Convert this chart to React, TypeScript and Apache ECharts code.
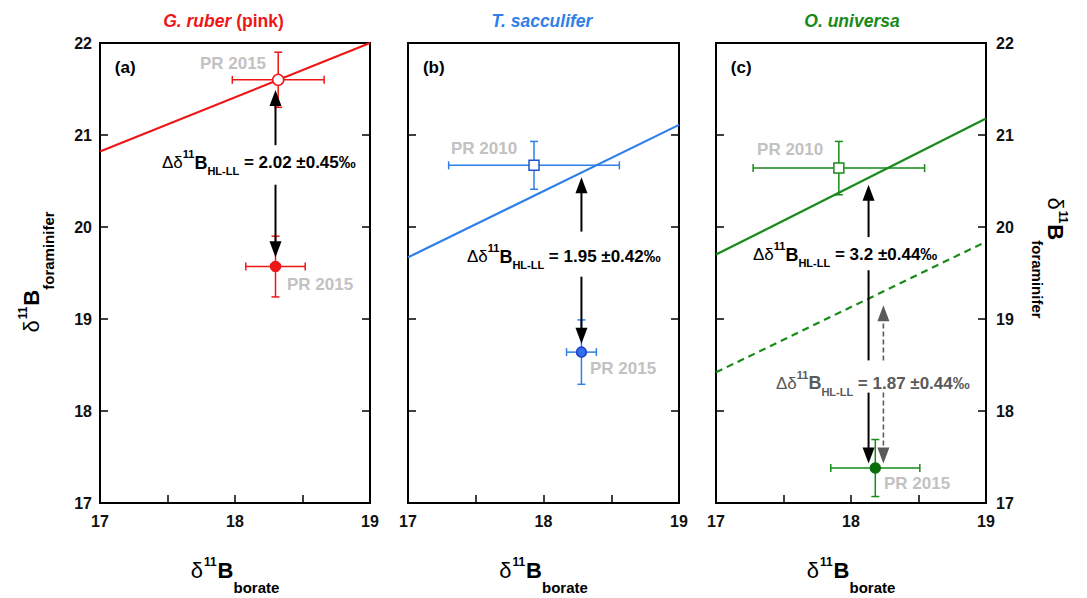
import React, { useEffect, useRef } from 'react';
import * as echarts from 'echarts';

const FONT = '"Liberation Sans", Arial, Helvetica, sans-serif';

// axis ranges and tick labels
const xRange = [17, 19];
const yRange = [17, 22];
const xTickStep = 0.5;
const yTickStep = 1;

// colours
const RED = '#ee1616';
const BLUE = '#2f7fe8';
const GREEN = '#178a17';
const GREY_LABEL = '#c2c2c2';
const GREY_DARK = '#5a5a5a';

// panel titles
const titleA = ['G. ruber', ' (pink)'];
const titleB = 'T. sacculifer';
const titleC = 'O. universa';
const panelLetters = ['(a)', '(b)', '(c)'];
const letterPos = [17.11, 21.73];

// calibration lines: y at x = 17 and x = 19
const lineXs = [17, 19];
const lineA = [20.82, 22.0];
const lineB = [19.67, 21.11];
const lineC = [19.7, 21.18];
const lineCDashed = [18.42, 19.84];

// data points: [x, y, xErr, yErr]
const openA = [[18.32, 21.6, 0.34, 0.3]];
const closedA = [[18.3, 19.57, 0.22, 0.33]];
const openB = [[17.93, 20.67, 0.63, 0.26]];
const closedB = [[18.28, 18.64, 0.11, 0.35]];
const openC = [[17.91, 20.64, 0.635, 0.29]];
const closedC = [[18.18, 17.38, 0.33, 0.31]];

// point labels: [x, y] (left edge, middle)
const prLabelsA = [[17.74, 21.78], [18.385, 19.37]];
const prTextA = ['PR 2015', 'PR 2015'];
const prLabelsB = [[17.317, 20.848], [18.343, 18.467]];
const prTextB = ['PR 2010', 'PR 2015'];
const prLabelsC = [[17.304, 20.837], [18.244, 17.217]];
const prTextC = ['PR 2010', 'PR 2015'];

// arrows: [x, yFrom, yTo, head(1/0)]
const arrowsA = [[18.3, 20.89, 21.49, 1], [18.3, 20.46, 19.67, 1]];
const arrowsB = [[18.28, 19.95, 20.54, 1], [18.28, 19.46, 18.73, 1]];
const arrowsC = [[18.13, 19.89, 20.46, 1], [18.13, 19.53, 18.55, 0], [18.13, 18.2, 17.43, 1]];
const arrowsCGrey = [[18.24, 18.55, 19.15, 1], [18.24, 18.2, 17.43, 1]];

// annotations: position [x, y] (left edge, middle of main line), value text
const annoPosA = [[17.459, 20.696]];
const annoValA = [' = 2.02 ±0.45‰'];
const annoPosB = [[17.435, 19.674]];
const annoValB = [' = 1.95 ±0.42‰'];
const annoPosC = [[17.274, 19.696]];
const annoValC = [' = 3.2 ±0.44‰'];
const annoPosCGrey = [[17.444, 18.304]];
const annoValCGrey = [' = 1.87 ±0.44‰'];

const GRIDS = [
  { left: 100, top: 43, width: 270, height: 460 },
  { left: 408, top: 43, width: 271, height: 460 },
  { left: 716, top: 43, width: 270, height: 460 },
];

function annoRich(fill: string) {
  return {
    d: { fontFamily: FONT, fontSize: 17, fontWeight: 'normal', fill, lineHeight: 28, verticalAlign: 'middle' },
    sup: { fontFamily: FONT, fontSize: 11, fontWeight: 'bold', fill, lineHeight: 10, verticalAlign: 'top' },
    b: { fontFamily: FONT, fontSize: 18, fontWeight: 'bold', fill, lineHeight: 28, verticalAlign: 'middle' },
    sub: { fontFamily: FONT, fontSize: 11, fontWeight: 'bold', fill, lineHeight: 10, verticalAlign: 'bottom' },
    m: { fontFamily: FONT, fontSize: 17, fontWeight: 'bold', fill, lineHeight: 28, verticalAlign: 'middle' },
  };
}

function titleRich(fill: string) {
  return {
    d: { fontFamily: FONT, fontSize: 22, fontWeight: 'normal', fill, lineHeight: 50, verticalAlign: 'middle' },
    sup: { fontFamily: FONT, fontSize: 12, fontWeight: 'bold', fill, verticalAlign: 'top', padding: [11, 1, 0, 1] },
    b: { fontFamily: FONT, fontSize: 22, fontWeight: 'bold', fill, lineHeight: 50, verticalAlign: 'middle' },
    sub: { fontFamily: FONT, fontSize: 15, fontWeight: 'bold', fill, lineHeight: 14, verticalAlign: 'bottom' },
  };
}

function errorSeries(data: number[][], g: number, color: string) {
  return {
    type: 'custom',
    xAxisIndex: g,
    yAxisIndex: g * 2,
    data,
    z: 3,
    renderItem: (params: any, api: any) => {
      const x = api.value(0), y = api.value(1), ex = api.value(2), ey = api.value(3);
      const l = api.coord([x - ex, y]);
      const r = api.coord([x + ex, y]);
      const t = api.coord([x, y + ey]);
      const b = api.coord([x, y - ey]);
      const c = 4;
      const st = { stroke: color, lineWidth: 1.5 };
      return {
        type: 'group',
        children: [
          { type: 'line', shape: { x1: l[0], y1: l[1], x2: r[0], y2: r[1] }, style: st },
          { type: 'line', shape: { x1: t[0], y1: t[1], x2: b[0], y2: b[1] }, style: st },
          { type: 'line', shape: { x1: l[0], y1: l[1] - c, x2: l[0], y2: l[1] + c }, style: st },
          { type: 'line', shape: { x1: r[0], y1: r[1] - c, x2: r[0], y2: r[1] + c }, style: st },
          { type: 'line', shape: { x1: t[0] - c, y1: t[1], x2: t[0] + c, y2: t[1] }, style: st },
          { type: 'line', shape: { x1: b[0] - c, y1: b[1], x2: b[0] + c, y2: b[1] }, style: st },
        ],
      };
    },
  };
}

function pointSeries(data: number[][], g: number, symbol: string, fill: string, border: string, size: number) {
  return {
    type: 'scatter',
    xAxisIndex: g,
    yAxisIndex: g * 2,
    data: data.map((d) => [d[0], d[1]]),
    symbol,
    symbolSize: size,
    z: 5,
    itemStyle: { color: fill, borderColor: border, borderWidth: 1.5, opacity: 1 },
  };
}

function lineSeries(ys: number[], g: number, color: string, dashed: boolean) {
  return {
    type: 'line',
    xAxisIndex: g,
    yAxisIndex: g * 2,
    data: lineXs.map((x, i) => [x, ys[i]]),
    symbol: 'none',
    clip: true,
    z: 2,
    lineStyle: { color, width: 2.2, type: dashed ? [7, 5] : 'solid' },
  };
}

function arrowSeries(data: number[][], g: number, color: string, dashed: boolean) {
  return {
    type: 'custom',
    xAxisIndex: g,
    yAxisIndex: g * 2,
    data,
    z: 6,
    renderItem: (params: any, api: any) => {
      const x = api.value(0), y1 = api.value(1), y2 = api.value(2), head = api.value(3);
      const p1 = api.coord([x, y1]);
      const p2 = api.coord([x, y2]);
      const dir = Math.sign(p2[1] - p1[1]);
      const L = 16, W = 12;
      const endY = head ? p2[1] - dir * (L - 1) : p2[1];
      const children: any[] = [
        {
          type: 'line',
          shape: { x1: p1[0], y1: p1[1], x2: p2[0], y2: endY },
          style: { stroke: color, lineWidth: dashed ? 1.6 : 2, lineDash: dashed ? [5, 3] : null },
        },
      ];
      if (head) {
        children.push({
          type: 'polygon',
          shape: { points: [[p2[0], p2[1]], [p2[0] - W / 2, p2[1] - dir * L], [p2[0] + W / 2, p2[1] - dir * L]] },
          style: { fill: color },
        });
      }
      return { type: 'group', children };
    },
  };
}

function textSeries(pos: number[][], texts: string[], g: number, color: string, size: number) {
  return {
    type: 'custom',
    xAxisIndex: g,
    yAxisIndex: g * 2,
    data: pos,
    z: 7,
    renderItem: (params: any, api: any) => {
      const p = api.coord([api.value(0), api.value(1)]);
      return {
        type: 'text',
        x: p[0],
        y: p[1],
        style: {
          text: texts[params.dataIndex],
          fill: color,
          fontFamily: FONT,
          fontSize: size,
          fontWeight: 'bold',
          align: 'left',
          verticalAlign: 'middle',
        },
      };
    },
  };
}

function annoSeries(pos: number[][], vals: string[], g: number, color: string) {
  return {
    type: 'custom',
    xAxisIndex: g,
    yAxisIndex: g * 2,
    data: pos,
    z: 7,
    renderItem: (params: any, api: any) => {
      const p = api.coord([api.value(0), api.value(1)]);
      return {
        type: 'text',
        x: p[0],
        y: p[1],
        style: {
          text: '{d|Δδ}{sup|11}{b|B}{sub|HL-LL}{m|' + vals[params.dataIndex] + '}',
          rich: annoRich(color),
          fill: color,
          align: 'left',
          verticalAlign: 'middle',
        },
      };
    },
  };
}

export default function App() {
  const ref = useRef<HTMLDivElement>(null);
  useEffect(() => {
    if (!ref.current) return;
    const chart = echarts.init(ref.current, null, { renderer: 'svg' });
    const tickLabel = {
      fontFamily: FONT,
      fontSize: 16,
      fontWeight: 'bold',
      color: '#111',
    };
    const xAxes = GRIDS.map((_, i) => ({
      type: 'value',
      gridIndex: i,
      min: xRange[0],
      max: xRange[1],
      interval: xTickStep,
      axisLine: { show: false },
      axisTick: { inside: true, length: 8, lineStyle: { color: '#000', width: 1.5 } },
      axisLabel: {
        ...tickLabel,
        margin: 10,
        showMinLabel: true,
        showMaxLabel: true,
        formatter: (v: number) => (Math.abs(v - Math.round(v)) < 1e-6 ? String(Math.round(v)) : ''),
      },
      splitLine: { show: false },
    }));
    const yAxes: any[] = [];
    GRIDS.forEach((_, i) => {
      ['left', 'right'].forEach((side) => {
        const showLabel = (i === 0 && side === 'left') || (i === 2 && side === 'right');
        yAxes.push({
          type: 'value',
          gridIndex: i,
          position: side,
          min: yRange[0],
          max: yRange[1],
          interval: yTickStep,
          axisLine: { show: false },
          axisTick: { inside: true, length: 8, lineStyle: { color: '#000', width: 1.5 } },
          axisLabel: { ...tickLabel, show: showLabel, margin: side === 'left' ? 8 : 10 },
          splitLine: { show: false },
        });
      });
    });

    const series: any[] = [
      lineSeries(lineA, 0, RED, false),
      lineSeries(lineB, 1, BLUE, false),
      lineSeries(lineC, 2, GREEN, false),
      lineSeries(lineCDashed, 2, GREEN, true),
      errorSeries(openA, 0, RED),
      errorSeries(closedA, 0, RED),
      errorSeries(openB, 1, BLUE),
      errorSeries(closedB, 1, BLUE),
      errorSeries(openC, 2, GREEN),
      errorSeries(closedC, 2, GREEN),
      pointSeries(openA, 0, 'circle', '#fff', RED, 11),
      pointSeries(closedA, 0, 'circle', RED, RED, 10),
      pointSeries(openB, 1, 'rect', '#fff', '#1f55d0', 10),
      pointSeries(closedB, 1, 'circle', '#2f6ff0', '#1a3cc0', 10),
      pointSeries(openC, 2, 'rect', '#fff', GREEN, 10),
      pointSeries(closedC, 2, 'circle', '#0b6e0b', '#0b6e0b', 10),
      arrowSeries(arrowsA, 0, '#000', false),
      arrowSeries(arrowsB, 1, '#000', false),
      arrowSeries(arrowsC, 2, '#000', false),
      arrowSeries(arrowsCGrey, 2, GREY_DARK, true),
      textSeries(prLabelsA, prTextA, 0, GREY_LABEL, 17),
      textSeries(prLabelsB, prTextB, 1, GREY_LABEL, 17),
      textSeries(prLabelsC, prTextC, 2, GREY_LABEL, 17),
      textSeries([letterPos], [panelLetters[0]], 0, '#000', 17),
      textSeries([letterPos], [panelLetters[1]], 1, '#000', 17),
      textSeries([letterPos], [panelLetters[2]], 2, '#000', 17),
      annoSeries(annoPosA, annoValA, 0, '#000'),
      annoSeries(annoPosB, annoValB, 1, '#000'),
      annoSeries(annoPosC, annoValC, 2, '#000'),
      annoSeries(annoPosCGrey, annoValCGrey, 2, GREY_DARK),
    ];

    const axisTitle = '{d|δ}{sup|11}{b|B}{sub|borate}';
    const yTitle = '{d|δ}{sup|11}{b|B}{sub|foraminifer}';
    const graphic: any[] = [
      {
        type: 'text',
        x: 223.5,
        y: 21,
        style: {
          text: '{i|' + titleA[0] + '}{n|' + titleA[1] + '}',
          rich: {
            i: { fontFamily: FONT, fontSize: 17.5, fontWeight: 'bold', fontStyle: 'italic', fill: RED },
            n: { fontFamily: FONT, fontSize: 17.5, fontWeight: 'bold', fill: RED },
          },
          align: 'center',
          verticalAlign: 'middle',
        },
      },
      {
        type: 'text',
        x: 542,
        y: 21,
        style: { text: titleB, fontFamily: FONT, fontSize: 17.5, fontWeight: 'bold', fontStyle: 'italic', fill: BLUE, align: 'center', verticalAlign: 'middle' },
      },
      {
        type: 'text',
        x: 852,
        y: 21,
        style: { text: titleC, fontFamily: FONT, fontSize: 17.5, fontWeight: 'bold', fontStyle: 'italic', fill: GREEN, align: 'center', verticalAlign: 'middle' },
      },
      ...GRIDS.map((g) => ({
        type: 'text',
        x: g.left + g.width / 2,
        y: 570,
        style: { text: axisTitle, rich: titleRich('#000'), align: 'center', verticalAlign: 'middle' },
      })),
      {
        type: 'text',
        x: 31,
        y: 272,
        rotation: Math.PI / 2,
        style: { text: yTitle, rich: titleRich('#000'), align: 'center', verticalAlign: 'middle' },
      },
      {
        type: 'text',
        x: 1055,
        y: 258,
        rotation: -Math.PI / 2,
        style: { text: yTitle, rich: titleRich('#000'), align: 'center', verticalAlign: 'middle' },
      },
    ];

    chart.setOption({
      animation: false,
      backgroundColor: '#fff',
      grid: GRIDS.map((g) => ({ ...g, show: true, borderColor: '#000', borderWidth: 2, backgroundColor: 'transparent', containLabel: false })),
      xAxis: xAxes,
      yAxis: yAxes,
      series,
      graphic,
    });
    return () => chart.dispose();
  }, []);
  return <div ref={ref} style={{ position: 'absolute', left: 0, top: 0, width: 1087, height: 598 }} />;
}
